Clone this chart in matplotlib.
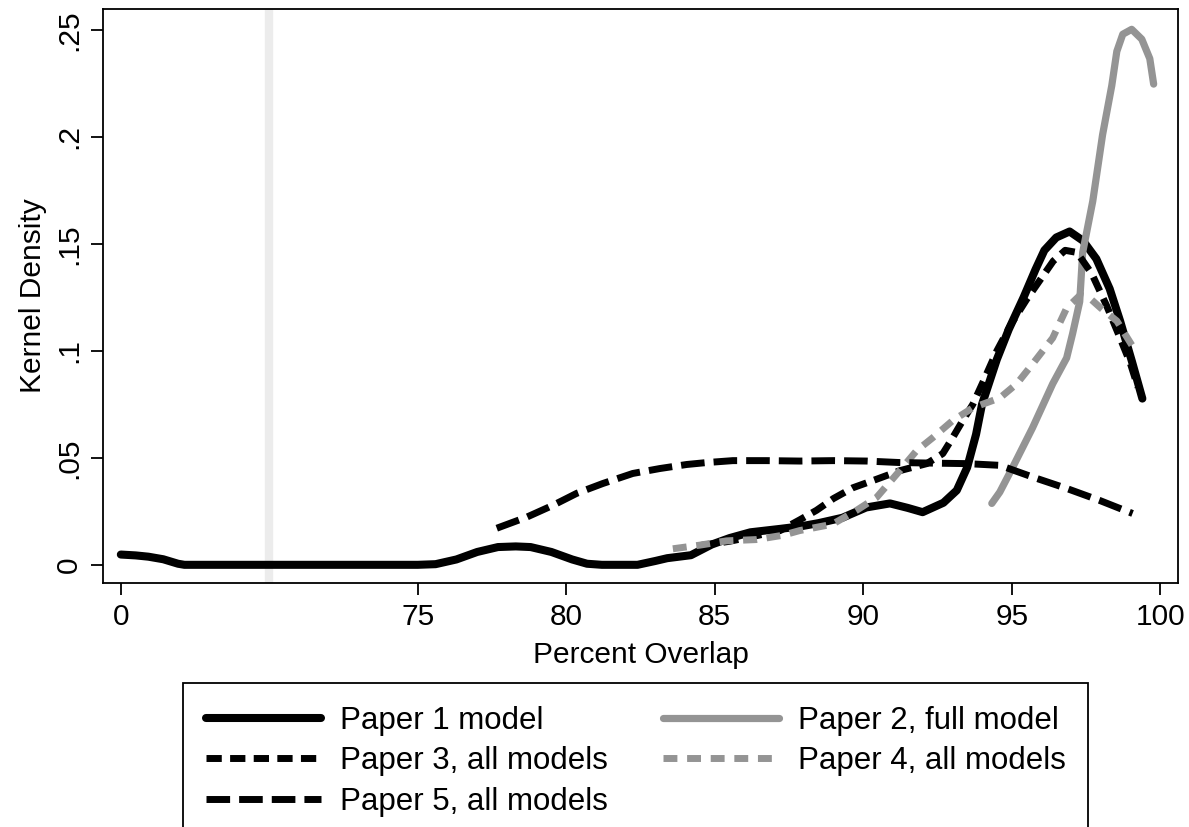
import numpy as np
import matplotlib
matplotlib.use("Agg")
import matplotlib.pyplot as plt

plt.rcParams['font.family'] = ['Liberation Sans', 'DejaVu Sans']

# Kernel density curves (percent overlap, density)
p1_x = [0, 7, 13, 20, 27, 30, 50, 75.0, 75.6, 76.3, 77.0, 77.7, 78.3, 78.8, 79.5,
        80.2, 80.7, 81.2, 82.4, 83.0, 83.4, 84.2, 84.9, 85.5, 86.2, 87.2, 87.9,
        88.5, 89.3, 90.1, 90.9, 91.5, 92.0, 92.7, 93.15, 93.5, 93.8, 94.0, 94.5,
        94.9, 95.4, 95.8, 96.1, 96.5, 96.95, 97.4, 97.85, 98.3, 98.65, 99.05, 99.4]
p1_y = [0.0048, 0.0044, 0.0038, 0.0026, 0.0005, 0.0, 0.0, 0.0, 0.0003, 0.0025,
        0.0060, 0.0083, 0.0086, 0.0083, 0.0060, 0.0025, 0.0005, 0.0, 0.0, 0.0018,
        0.0031, 0.0045, 0.0095, 0.0125, 0.0152, 0.0168, 0.0180, 0.0195, 0.0220,
        0.0268, 0.0287, 0.0266, 0.0246, 0.0290, 0.0348, 0.0455, 0.0610, 0.0750,
        0.0960, 0.1100, 0.1250, 0.1380, 0.1470, 0.1530, 0.1558, 0.1515, 0.1430,
        0.1290, 0.1140, 0.0950, 0.0777]

p2_x = [94.33, 94.6, 95.03, 95.7, 96.38, 96.85, 97.05, 97.29, 97.39, 97.73, 98.06,
        98.37, 98.54, 98.74, 99.04, 99.38, 99.65, 99.78]
p2_y = [0.0287, 0.034, 0.0455, 0.064, 0.0846, 0.0967, 0.108, 0.123, 0.146, 0.170,
        0.201, 0.224, 0.240, 0.248, 0.2503, 0.2457, 0.2366, 0.2247]

p3_x = [84.5, 85.5, 86.2, 87.2, 87.86, 88.43, 89.0, 89.65, 90.45, 91.23, 92.14,
        92.68, 93.01, 93.35, 93.69, 94.02, 94.5, 95.0, 95.5, 96.0, 96.4, 96.8,
        97.2, 97.7, 98.2, 98.65, 99.0, 99.25]
p3_y = [0.009, 0.011, 0.013, 0.016, 0.021, 0.0255, 0.031, 0.036, 0.040, 0.044,
        0.0473, 0.052, 0.0594, 0.0674, 0.075, 0.085, 0.100, 0.113, 0.124, 0.134,
        0.142, 0.147, 0.146, 0.136, 0.121, 0.106, 0.094, 0.083]

p4_x = [83.59, 84.5, 85.4, 86.4, 87.29, 87.86, 88.97, 89.78, 90.45, 91.23, 91.8,
        92.34, 93.01, 93.69, 94.6, 95.17, 95.71, 96.38, 96.85, 97.3, 97.6, 98.0,
        98.54, 99.21]
p4_y = [0.0075, 0.0092, 0.0112, 0.0118, 0.0138, 0.016, 0.019, 0.0255, 0.0315,
        0.044, 0.0534, 0.0594, 0.0674, 0.0734, 0.078, 0.0846, 0.094, 0.106, 0.120,
        0.126, 0.125, 0.120, 0.114, 0.099]

p5_x = [77.66, 78.67, 79.55, 80.35, 81.23, 82.24, 83.15, 84.06, 84.73, 85.61,
        86.75, 87.86, 89.0, 90.12, 91.23, 92.5, 93.48, 94.6, 95.71, 96.85, 97.96,
        99.07]
p5_y = [0.0171, 0.0223, 0.0278, 0.0334, 0.038, 0.0427, 0.045, 0.0469, 0.0478,
        0.0487, 0.0487, 0.0485, 0.0487, 0.0485, 0.0478, 0.0475, 0.0473, 0.0465,
        0.041, 0.0357, 0.0301, 0.024]

xtick_vals = [0, 75, 80, 85, 90, 95, 100]
ytick_vals = [0, 0.05, 0.1, 0.15, 0.2, 0.25]
ytick_labels = ['0', '.05', '.1', '.15', '.2', '.25']

# the axis is broken: 0..70 is squeezed into 65..70
BREAK = 70


def to_axis(x):
    x = np.asarray(x, dtype=float)
    return np.where(x < BREAK, 65 + x * 5 / BREAK, x)


fig = plt.figure(figsize=(11.89, 8.27), dpi=100)
ax = fig.add_axes([103 / 1189, 1 - 583 / 827, 1075 / 1189, 574 / 827])

ax.axvline(BREAK, color='#ececec', lw=6, zorder=1)

gray = '#949494'
l1, = ax.plot(to_axis(p1_x), p1_y, color='black', lw=5.8, solid_capstyle='round', zorder=3)
l2, = ax.plot(to_axis(p2_x), p2_y, color=gray, lw=5.2, solid_capstyle='round', zorder=3)
l3, = ax.plot(to_axis(p3_x), p3_y, color='black', lw=5, dashes=(2.2, 1.2), zorder=3)
l4, = ax.plot(to_axis(p4_x), p4_y, color=gray, lw=5, dashes=(2.0, 1.4), zorder=3)
l5, = ax.plot(to_axis(p5_x), p5_y, color='black', lw=5, dashes=(3.4, 1.3), zorder=3)

ax.set_xlim(64.4, 100.6)
ax.set_ylim(-0.0085, 0.2598)
ax.set_xticks(to_axis(xtick_vals))
ax.set_xticklabels([str(v) for v in xtick_vals])
ax.set_yticks(ytick_vals)
ax.set_yticklabels(ytick_labels, rotation=90, va='center')
ax.tick_params(direction='out', length=8.5, width=1.3, labelsize=21.5, pad=6)
for s in ax.spines.values():
    s.set_linewidth(1.3)

ax.set_xlabel('Percent Overlap', fontsize=21.5, labelpad=7)
ax.set_ylabel('Kernel Density', fontsize=21.5, labelpad=6)

handles = [l1, l3, l5, l2, l4]
labels = ['Paper 1 model', 'Paper 3, all models', 'Paper 5, all models',
          'Paper 2, full model', 'Paper 4, all models']
leg = fig.legend(handles, labels, ncol=2, loc='upper left',
                 bbox_to_anchor=(183 / 1189, 1 - 683 / 827), fontsize=22.5,
                 frameon=True, fancybox=False, edgecolor='black', framealpha=1,
                 handlelength=3.7, handletextpad=0.62, columnspacing=1.75,
                 borderpad=0.72, labelspacing=0.34, borderaxespad=0)
leg.get_frame().set_linewidth(1.3)

fig.savefig('out.png', dpi=100)
